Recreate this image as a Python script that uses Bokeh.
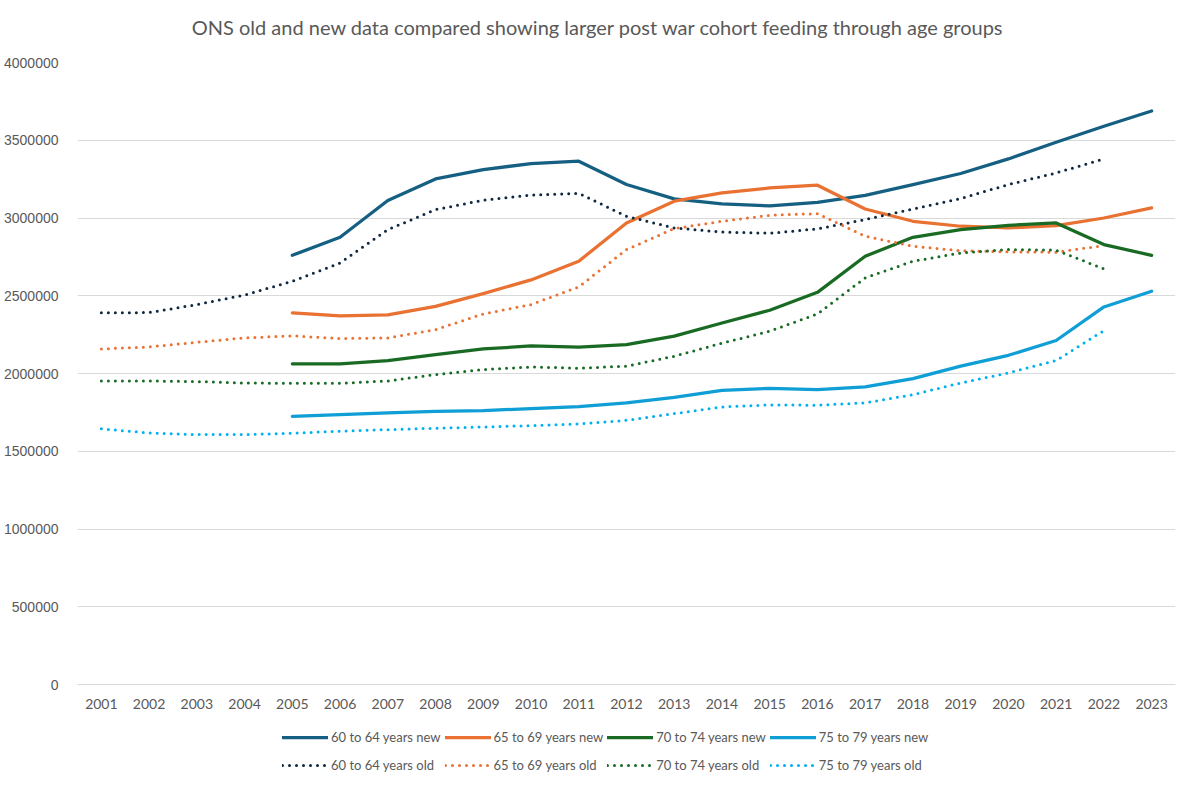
from bokeh.plotting import figure
from bokeh.layouts import column
from bokeh.models import Range1d, FixedTicker, Legend, LegendItem, BasicTickFormatter, FactorRange, Label
from bokeh.embed import file_html
from bokeh.resources import INLINE

years = [str(y) for y in range(2001, 2024)]
new_years = years[4:]      # 2005-2023
old_years = years[:22]     # 2001-2022

s60_new = [2760000, 2876000, 3112000, 3251000, 3311000, 3350000, 3365000, 3215000, 3123000,
           3091000, 3078000, 3101000, 3146000, 3215000, 3286000, 3380000, 3487000, 3590000, 3688000]
s65_new = [2390000, 2370000, 2377000, 2432000, 2514000, 2602000, 2722000, 2968000, 3108000,
           3161000, 3193000, 3211000, 3058000, 2979000, 2947000, 2936000, 2951000, 3000000, 3065000]
s70_new = [2062000, 2062000, 2083000, 2122000, 2158000, 2177000, 2169000, 2186000, 2240000,
           2325000, 2407000, 2522000, 2754000, 2876000, 2925000, 2953000, 2968000, 2829000, 2760000]
s75_new = [1725000, 1736000, 1747000, 1757000, 1762000, 1774000, 1787000, 1811000, 1847000,
           1892000, 1905000, 1897000, 1914000, 1967000, 2047000, 2117000, 2212000, 2428000, 2529000]

s60_old = [2390000, 2392000, 2443000, 2505000, 2593000, 2711000, 2925000, 3054000, 3114000,
           3148000, 3159000, 3011000, 2936000, 2910000, 2902000, 2930000, 2990000, 3058000,
           3125000, 3215000, 3290000, 3380000]
s65_old = [2158000, 2171000, 2201000, 2229000, 2242000, 2225000, 2229000, 2282000, 2383000,
           2443000, 2557000, 2797000, 2932000, 2979000, 3018000, 3028000, 2883000, 2818000,
           2790000, 2782000, 2780000, 2823000]
s70_old = [1952000, 1952000, 1948000, 1939000, 1937000, 1937000, 1952000, 1993000, 2025000,
           2042000, 2034000, 2047000, 2111000, 2195000, 2272000, 2383000, 2615000, 2722000,
           2775000, 2797000, 2793000, 2673000]
s75_old = [1644000, 1618000, 1607000, 1607000, 1616000, 1629000, 1639000, 1648000, 1656000,
           1665000, 1676000, 1699000, 1742000, 1785000, 1798000, 1796000, 1811000, 1864000,
           1939000, 2004000, 2083000, 2276000]

names_new = ["60 to 64 years new", "65 to 69 years new", "70 to 74 years new", "75 to 79 years new"]
names_old = ["60 to 64 years old", "65 to 69 years old", "70 to 74 years old", "75 to 79 years old"]
colors_new = ["#156082", "#E97132", "#196B24", "#0F9ED5"]
colors_old = ["#0E2841", "#E97132", "#196B24", "#00B0F0"]
title_text = "ONS old and new data compared showing larger post war cohort feeding through age groups"

TXT = "#595959"
FONT = "Lato"
NEW_W = 3.25
OLD_W = 3
OLD_DASH = "0 7"
W = 1184

# title strip
p0 = figure(width=W, height=42, x_range=Range1d(0, 1), y_range=Range1d(0, 1),
            x_axis_type=None, y_axis_type=None, output_backend="svg", toolbar_location=None,
            min_border=0)
p0.outline_line_color = None
p0.grid.visible = False
p0.add_layout(Label(x=0.474, y=0.38, text=title_text, text_align="center", text_baseline="middle",
                    text_font=FONT, text_font_size="20px", text_color=TXT))

# main chart
p = figure(width=W, height=672, x_range=FactorRange(*years), y_range=Range1d(0, 4000000),
           output_backend="svg", toolbar_location=None,
           min_border_left=73, min_border_right=9, min_border_top=20, min_border_bottom=30)
p.outline_line_color = None

p.xgrid.grid_line_color = None
p.ygrid.grid_line_color = "#D9D9D9"
p.ygrid.grid_line_width = 1

p.yaxis.ticker = FixedTicker(ticks=list(range(0, 4000001, 500000)))
p.yaxis.formatter = BasicTickFormatter(use_scientific=False)
p.yaxis.axis_line_color = None
p.yaxis.major_tick_line_color = None
p.yaxis.minor_tick_line_color = None
p.yaxis.major_label_text_font = "Liberation Sans"
p.yaxis.major_label_text_font_size = "14px"
p.yaxis.major_label_text_color = TXT
p.yaxis.major_label_standoff = 13

p.xaxis.axis_line_color = "#D9D9D9"
p.xaxis.major_tick_line_color = None
p.xaxis.minor_tick_line_color = None
p.xaxis.major_label_text_font = FONT
p.xaxis.major_label_text_font_size = "14px"
p.xaxis.major_label_text_color = TXT
p.xaxis.major_label_standoff = 8

new_series = [s60_new, s65_new, s70_new, s75_new]
old_series = [s60_old, s65_old, s70_old, s75_old]

for vals, c in zip(new_series, colors_new):
    p.line(new_years, vals, line_color=c, line_width=NEW_W, line_join="round", line_cap="round")
for vals, c in zip(old_series, colors_old):
    p.line(old_years, vals, line_color=c, line_width=OLD_W, line_dash=OLD_DASH, line_cap="round")

# legend strip below the chart (series drawn out of view; only the legend shows)
p2 = figure(width=W, height=70, x_range=FactorRange(*years), y_range=Range1d(-2, -1),
            x_axis_type=None, y_axis_type=None, output_backend="svg", toolbar_location=None,
            min_border=0)
p2.outline_line_color = None
p2.grid.visible = False
items = []
for vals, c, n in zip(new_series, colors_new, names_new):
    r = p2.line(new_years, vals, line_color=c, line_width=NEW_W, line_cap="round")
    items.append(LegendItem(label=n, renderers=[r]))
for vals, c, n in zip(old_series, colors_old, names_old):
    r = p2.line(old_years, vals, line_color=c, line_width=OLD_W, line_dash=OLD_DASH, line_cap="round")
    items.append(LegendItem(label=n, renderers=[r]))

lg = Legend(items=items, orientation="horizontal", nrows=2, location=(205, 7),
            label_text_font=FONT, label_text_font_size="13px", label_text_color=TXT,
            glyph_width=46, glyph_height=24, label_standoff=3, spacing=4,
            padding=2, margin=0, border_line_color=None, background_fill_alpha=0)
p2.add_layout(lg, "center")

layout = column(p0, p, p2, spacing=0)
open("out.html", "w").write(file_html(layout, INLINE))
